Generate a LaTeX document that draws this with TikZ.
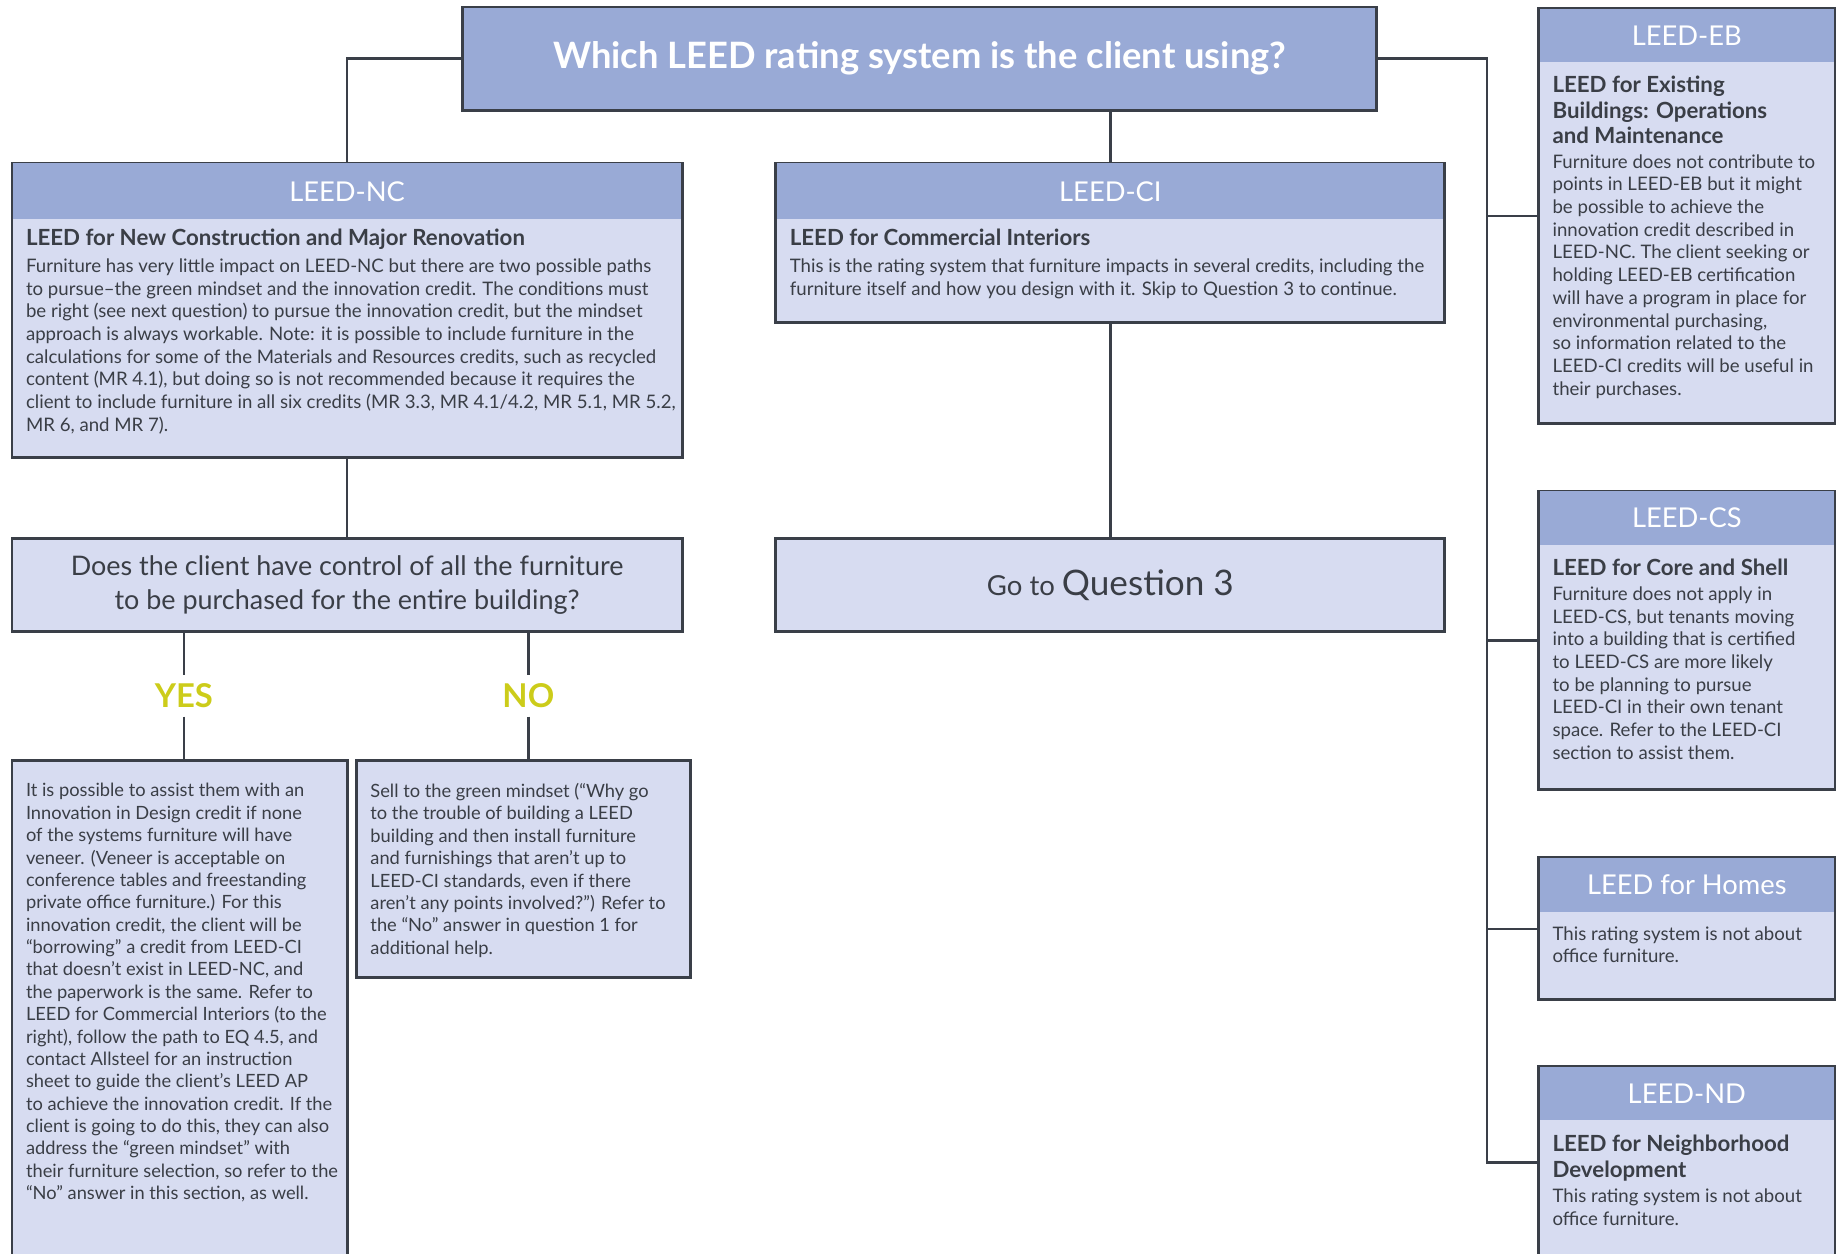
\documentclass[tikz,border=0pt]{standalone}
\usepackage{fontspec}
\setmainfont{Lato}
\usepackage{tikz}
\definecolor{Head}{RGB}{153,170,214}
\definecolor{Pale}{RGB}{215,220,241}
\definecolor{Edge}{RGB}{58,63,72}
\definecolor{Ink}{RGB}{58,62,70}
\definecolor{Answer}{RGB}{204,204,26}
\tikzset{
  card/.style={draw=Edge, line width=2.5pt, fill=Pale, inner sep=0pt, text=Ink},
  cardhead/.style={fill=Head, text=white, inner sep=0pt, anchor=north, font=\fontsize{23.3}{27}\selectfont},
  cardbold/.style={text=Ink, inner sep=0pt, anchor=north west, align=left, font=\bfseries\fontsize{19}{22}\selectfont},
  cardtext/.style={text=Ink, inner sep=0pt, anchor=north west, align=left, font=\fontsize{15.9}{19.4}\selectfont},
  answer/.style={text=Answer, inner sep=0pt, minimum height=35pt, font=\bfseries\fontsize{28}{32}\selectfont},
  wire/.style={draw=Edge, line width=2pt},
}
\begin{document}
\begin{tikzpicture}[x=1pt, y=-1pt]
    \useasboundingbox (0,0) rectangle (1568,1070);

    \node[card, fill=Head, text=white, minimum width=780pt, minimum height=88pt, font=\bfseries\fontsize{31}{36}\selectfont] (title) at (785,50) {Which LEED rating system is the client using?};

    \node[card, anchor=north west, minimum width=572pt, minimum height=251pt] (nc)    at (   9, 138) {};
    \node[card, anchor=north west, minimum width=572pt, minimum height=80pt, align=center, font=\fontsize{23}{28.5}\selectfont] (q) at (9, 458) {Does the client have control of all the furniture\\to be purchased for the entire building?};
    \node[card, anchor=north west, minimum width=286pt, minimum height=425pt] (yesbox) at (   9, 648) {};
    \node[card, anchor=north west, minimum width=285pt, minimum height=185pt] (nobox)  at ( 303, 648) {};
    \node[card, anchor=north west, minimum width=571pt, minimum height=136pt] (ci)     at ( 661, 138) {};
    \node[card, anchor=north west, minimum width=571pt, minimum height=80pt, font=\fontsize{23.5}{28}\selectfont] (goq) at (661, 458) {Go to {\fontsize{30}{34}\selectfont Question 3}};
    \node[card, anchor=north west, minimum width=253pt, minimum height=354pt] (eb)     at (1312,   6) {};
    \node[card, anchor=north west, minimum width=253pt, minimum height=255pt] (cs)     at (1312, 418) {};
    \node[card, anchor=north west, minimum width=253pt, minimum height=121pt] (homes)  at (1312, 731) {};
    \node[card, anchor=north west, minimum width=253pt, minimum height=164pt] (nd)     at (1312, 909) {};

    \node[cardhead, minimum width=569.5pt, minimum height=47.75pt] (nchead)    at ([yshift=-1.25pt]nc.north)    {LEED-NC};
    \node[cardhead, minimum width=568.5pt, minimum height=47.75pt] (cihead)    at ([yshift=-1.25pt]ci.north)    {LEED-CI};
    \node[cardhead, minimum width=250.5pt, minimum height=45.75pt] (ebhead)    at ([yshift=-1.25pt]eb.north)    {LEED-EB};
    \node[cardhead, minimum width=250.5pt, minimum height=45.75pt] (cshead)    at ([yshift=-1.25pt]cs.north)    {LEED-CS};
    \node[cardhead, minimum width=250.5pt, minimum height=45.75pt] (homeshead) at ([yshift=-1.25pt]homes.north) {LEED for Homes};
    \node[cardhead, minimum width=250.5pt, minimum height=45.75pt] (ndhead)    at ([yshift=-1.25pt]nd.north)    {LEED-ND};

    \node[cardbold] (ncname) at ([shift={(13,57.5)}]nc.north west) {LEED for New Construction and Major Renovation};
    \node[cardtext] (nctext) at ([shift={(13,82.5)}]nc.north west) {Furniture has very little impact on LEED-NC but there are two possible paths\\
      to pursue–the green mindset and the innovation credit. The conditions must\\
      be right (see next question) to pursue the innovation credit, but the mindset\\
      approach is always workable. Note: it is possible to include furniture in the\\
      calculations for some of the Materials and Resources credits, such as recycled\\
      content (MR 4.1), but doing so is not recommended because it requires the\\
      client to include furniture in all six credits (MR 3.3, MR 4.1/4.2, MR 5.1, MR 5.2,\\
      MR 6, and MR 7).};

    \node[cardbold] (ciname) at ([shift={(13,57.5)}]ci.north west) {LEED for Commercial Interiors};
    \node[cardtext] (citext) at ([shift={(13,82.5)}]ci.north west) {This is the rating system that furniture impacts in several credits, including the\\
      furniture itself and how you design with it. Skip to Question 3 to continue.};

    \node[cardbold] (ebname) at ([shift={(13,58.5)}]eb.north west) {LEED for Existing\\Buildings: Operations\\and Maintenance};
    \node[cardtext] (ebtext) at ([shift={(13,125.5)}]eb.north west) {Furniture does not contribute to\\
      points in LEED-EB but it might\\
      be possible to achieve the\\
      innovation credit described in\\
      LEED-NC. The client seeking or\\
      holding LEED-EB certification\\
      will have a program in place for\\
      environmental purchasing,\\
      so information related to the\\
      LEED-CI credits will be useful in\\
      their purchases.};

    \node[cardbold] (csname) at ([shift={(13,58.5)}]cs.north west) {LEED for Core and Shell};
    \node[cardtext] (cstext) at ([shift={(13,82.5)}]cs.north west) {Furniture does not apply in\\
      LEED-CS, but tenants moving\\
      into a building that is certified\\
      to LEED-CS are more likely\\
      to be planning to pursue\\
      LEED-CI in their own tenant\\
      space. Refer to the LEED-CI\\
      section to assist them.};

    \node[cardtext] (homestext) at ([shift={(13,59.5)}]homes.north west) {This rating system is not about\\office furniture.};

    \node[cardbold] (ndname) at ([shift={(13,59.5)}]nd.north west) {LEED for Neighborhood\\Development};
    \node[cardtext] (ndtext) at ([shift={(13,105.5)}]nd.north west) {This rating system is not about\\office furniture.};

    \node[cardtext, font=\fontsize{15.6}{19.1}\selectfont] (yestext) at ([shift={(13,20.5)}]yesbox.north west) {It is possible to assist them with an\\
      Innovation in Design credit if none\\
      of the systems furniture will have\\
      veneer. (Veneer is acceptable on\\
      conference tables and freestanding\\
      private office furniture.) For this\\
      innovation credit, the client will be\\
      “borrowing” a credit from LEED-CI\\
      that doesn’t exist in LEED-NC, and\\
      the paperwork is the same. Refer to\\
      LEED for Commercial Interiors (to the\\
      right), follow the path to EQ 4.5, and\\
      contact Allsteel for an instruction\\
      sheet to guide the client’s LEED AP\\
      to achieve the innovation credit. If the\\
      client is going to do this, they can also\\
      address the “green mindset” with\\
      their furniture selection, so refer to the\\
      “No” answer in this section, as well.};
    \node[cardtext, font=\fontsize{15.6}{19.1}\selectfont] (notext) at ([shift={(13,20.5)}]nobox.north west) {Sell to the green mindset (“Why go\\
      to the trouble of building a LEED\\
      building and then install furniture\\
      and furnishings that aren’t up to\\
      LEED-CI standards, even if there\\
      aren’t any points involved?”) Refer to\\
      the “No” answer in question 1 for\\
      additional help.};

    \node[answer] (yes) at (157,594) {YES};
    \node[answer] (no)  at (451,594) {NO};

    \coordinate (spine) at (1269,50);
    \draw[wire] (title.west) -| (nc.north);
    \draw[wire] (title.east) -- (spine) |- (nd.west);
    \draw[wire] (ci.north) -- (ci.north |- title.south);
    \draw[wire] (spine |- eb.west) -- (eb.west);
    \draw[wire] (spine |- cs.west) -- (cs.west);
    \draw[wire] (spine |- homes.west) -- (homes.west);
    \draw[wire] (nc.south) -- (q.north);
    \draw[wire] (ci.south) -- (goq.north);
    \draw[wire] (yes.north |- q.south) -- (yes.north);
    \draw[wire] (yes.south) -- (yes.south |- yesbox.north);
    \draw[wire] (no.north |- q.south) -- (no.north);
    \draw[wire] (no.south) -- (no.south |- nobox.north);
\end{tikzpicture}
\end{document}
